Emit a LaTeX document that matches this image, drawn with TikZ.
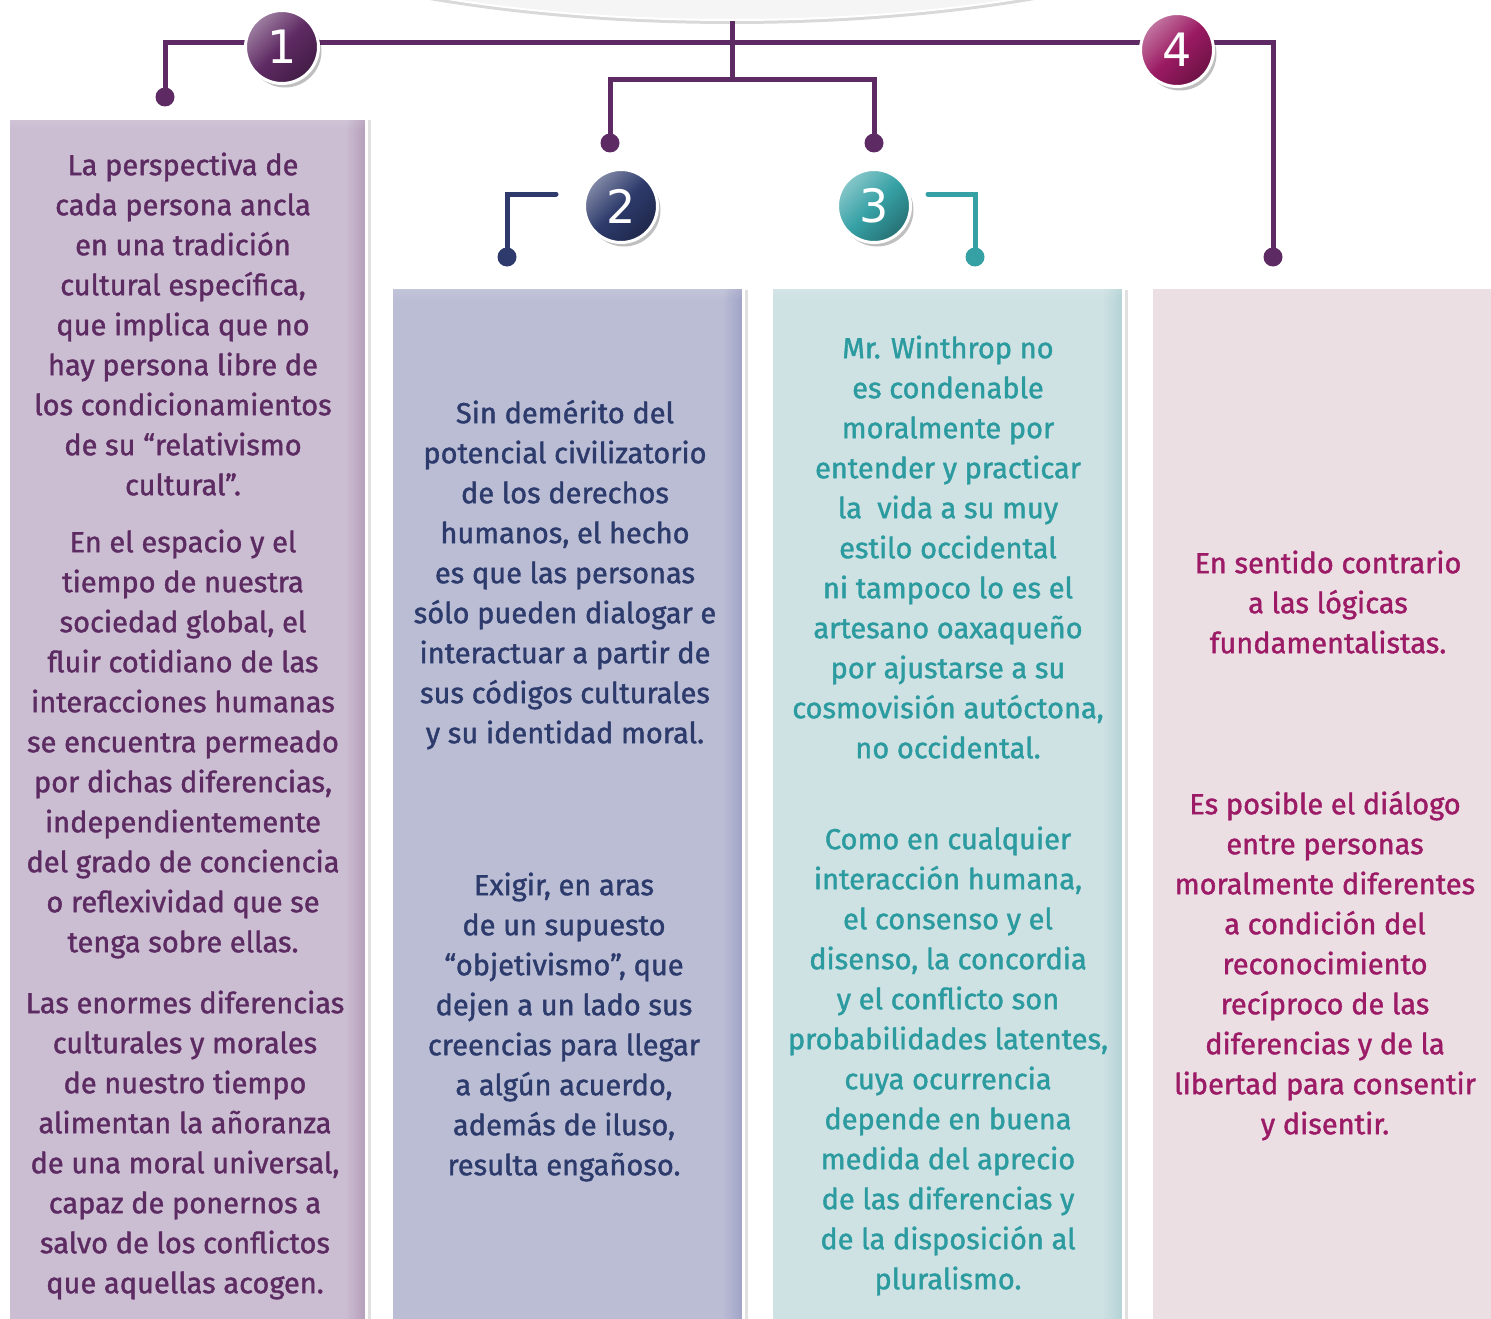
\documentclass[tikz,border=0pt]{standalone}
\usepackage{fontspec}
\setmainfont{Fira Sans}[FakeBold=1.4]
\newfontfamily\digitfont{DejaVu Sans}
\usetikzlibrary{shadows,shapes.geometric}
\definecolor{plum}{HTML}{5E2A63}
\definecolor{navy}{HTML}{2D3A6B}
\definecolor{teal}{HTML}{36A1A5}
\definecolor{mag}{HTML}{9B1A63}
\definecolor{txA}{HTML}{5C2B62}
\definecolor{txB}{HTML}{2C3B6B}
\definecolor{txC}{HTML}{2B9BA0}
\definecolor{txD}{HTML}{9C1B66}
\definecolor{bxA}{HTML}{CBBDD2}
\definecolor{bxAd}{HTML}{B59EBA}
\definecolor{bxB}{HTML}{BBBDD5}
\definecolor{bxBd}{HTML}{A0A3C6}
\definecolor{bxC}{HTML}{CEE1E3}
\definecolor{bxCd}{HTML}{B3D2D6}
\definecolor{bxD}{HTML}{ECDFE4}
\definecolor{bxDd}{HTML}{E2CFD8}
\newcommand{\edgeshade}[2]{%
  \foreach \i in {0,...,9}{%
    \pgfmathtruncatemacro{\pc}{(\i+1)*10}%
    \fill[#2!\pc!#1] ([xshift={-20pt+\i*2pt}]path picture bounding box.north east) rectangle ([xshift={-18pt+\i*2pt}]path picture bounding box.south east);
  }%
  \foreach \i in {0,...,5}{%
    \fill[white, opacity=0.02*(6-\i)] ([yshift={-\i*2pt}]path picture bounding box.north west) rectangle ([yshift={-\i*2pt-2pt}]path picture bounding box.north east);
  }%
}
\tikzset{
  pline/.style={line width=5pt},
  dotc/.style={circle, fill=#1, minimum size=19pt, inner sep=0pt},
  numc/.style={circle, minimum size=73pt, inner sep=0pt, draw=white, line width=3pt,
    top color=#1!60!white, bottom color=#1!70!black, middle color=#1, shading angle=45,
    drop shadow={shadow xshift=3pt, shadow yshift=-4pt, opacity=0.25, fill=black},
    text=white, font=\digitfont\fontsize{46}{46}\selectfont},
  panel/.style={rectangle, anchor=north west, inner sep=0pt, draw=white, line width=3pt,
    fill=#1, drop shadow={shadow xshift=4pt, shadow yshift=-2pt, opacity=0.12, fill=black}},
  ptext/.style={text=#1, align=center, anchor=north, inner sep=0pt,
    font=\fontsize{29}{40}\selectfont},
}
\newcommand{\st}{\rule{0pt}{25pt}}
\begin{document}
\begin{tikzpicture}[x=1pt, y=-1pt]
\useasboundingbox (0,0) rectangle (1491,1319);
\fill[white] (0,0) rectangle (1491,1319);

% top shape
\node (topshape) [ellipse, draw=white, line width=2pt, fill=black!4, minimum width=1180pt, minimum height=340pt,
  drop shadow={shadow xshift=0pt, shadow yshift=-4pt, opacity=0.15, fill=black}] at (732,-150) {};

% panels
\node (boxA) [panel=bxA, minimum width=358pt, minimum height=1230pt,
  path picture={\edgeshade{bxA}{bxAd}}] at (7,117) {};
\node (boxB) [panel=bxB, minimum width=352pt, minimum height=1060pt,
  path picture={\edgeshade{bxB}{bxBd}}] at (390,286) {};
\node (boxC) [panel=bxC, minimum width=352pt, minimum height=1060pt,
  path picture={\edgeshade{bxC}{bxCd}}] at (770,286) {};
\node (boxD) [panel=bxD, minimum width=360pt, minimum height=1060pt] at (1150,286) {};

% connector coordinates
\coordinate (d1) at (165,97);
\coordinate (k1) at (165,43);
\coordinate (k4) at (1273,43);
\coordinate (d4c) at (1273,257);
\coordinate (hub) at (732,80);
\coordinate (k2) at (610,80);
\coordinate (k3) at (874,80);
\coordinate (d2c) at (610,143);
\coordinate (d3c) at (874,143);
\coordinate (n1) at (556,194);
\coordinate (n2) at (507,194);
\coordinate (dnc) at (507,257);
\coordinate (t1) at (928,194);
\coordinate (t2) at (975,194);
\coordinate (dtc) at (975,257);

\draw[pline, plum] (d1) -- (k1) -- (k4) -- (d4c);
\draw[pline, plum] (topshape.south) -- (hub);
\draw[pline, plum] (d2c) -- (k2) -- (k3) -- (d3c);
\draw[pline, navy, line cap=round] (n1) -- (n2) -- (dnc);
\draw[pline, teal, line cap=round] (t1) -- (t2) -- (dtc);

\node (dot1) [dotc=plum] at (d1) {};
\node (dot4) [dotc=plum] at (d4c) {};
\node (dot2) [dotc=plum] at (d2c) {};
\node (dot3) [dotc=plum] at (d3c) {};
\node (dotn) [dotc=navy] at (dnc) {};
\node (dott) [dotc=teal] at (dtc) {};

% numbered circles
\node (c1) [numc=plum] at (282,47) {1};
\node (c2) [numc=navy] at (621,206) {2};
\node (c3) [numc=teal] at (874,206) {3};
\node (c4) [numc=mag] at (1177,50) {4};

% texts panel A
\node (a1) [ptext=txA] at (183,150) {\st La perspectiva de\\cada persona ancla\\en una tradición\\cultural específica,\\que implica que no\\hay persona libre de\\los condicionamientos\\de su “relativismo\\cultural”.};
\node (a2) [ptext=txA] at (183,527) {\st En el espacio y el\\tiempo de nuestra\\sociedad global, el\\fluir cotidiano de las\\interacciones humanas\\se encuentra permeado\\por dichas diferencias,\\independientemente\\del grado de conciencia\\o reflexividad que se\\tenga sobre ellas.};
\node (a3) [ptext=txA] at (185,988) {\st Las enormes diferencias\\culturales y morales\\de nuestro tiempo\\alimentan la añoranza\\de una moral universal,\\capaz de ponernos a\\salvo de los conflictos\\que aquellas acogen.};

% texts panel B
\node (b1) [ptext=txB] at (565,398) {\st Sin demérito del\\potencial civilizatorio\\de los derechos\\humanos, el hecho\\es que las personas\\sólo pueden dialogar e\\interactuar a partir de\\sus códigos culturales\\y su identidad moral.};
\node (b2) [ptext=txB] at (564,870) {\st Exigir, en aras\\de un supuesto\\“objetivismo”, que\\dejen a un lado sus\\creencias para llegar\\a algún acuerdo,\\además de iluso,\\resulta engañoso.};

% texts panel C
\node (p1) [ptext=txC] at (948,333) {\st Mr. Winthrop no\\es condenable\\moralmente por\\entender y practicar\\la\ \ vida a su muy\\estilo occidental\\ni tampoco lo es el\\artesano oaxaqueño\\por ajustarse a su\\cosmovisión autóctona,\\no occidental.};
\node (p2) [ptext=txC] at (948,824) {\st Como en cualquier\\interacción humana,\\el consenso y el\\disenso, la concordia\\y el conflicto son\\probabilidades latentes,\\cuya ocurrencia\\depende en buena\\medida del aprecio\\de las diferencias y\\de la disposición al\\pluralismo.};

% texts panel D
\node (q1) [ptext=txD] at (1328,548) {\st En sentido contrario\\a las lógicas\\fundamentalistas.};
\node (q2) [ptext=txD] at (1325,789) {\st Es posible el diálogo\\entre personas\\moralmente diferentes\\a condición del\\reconocimiento\\recíproco de las\\diferencias y de la\\libertad para consentir\\y disentir.};
\end{tikzpicture}
\end{document}
